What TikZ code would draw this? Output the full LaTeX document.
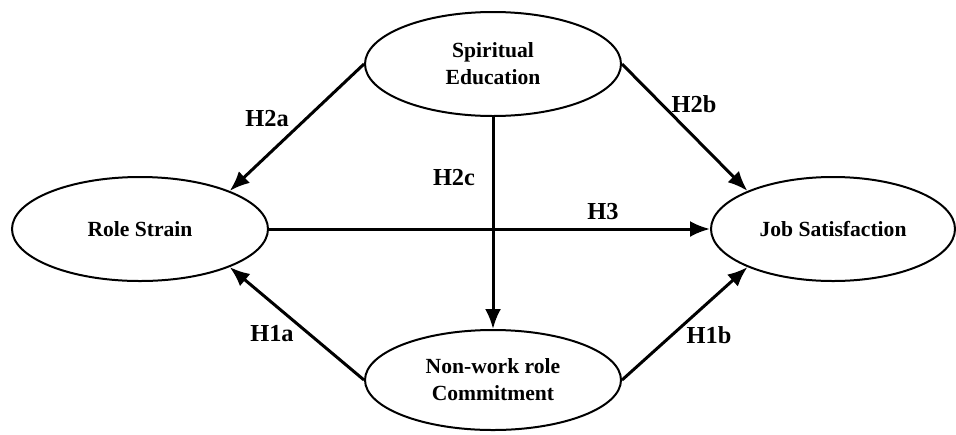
\documentclass[tikz,border=0pt]{standalone}
\usepackage{fontspec}
\setmainfont{Liberation Serif}
\usetikzlibrary{arrows.meta,shapes.geometric,positioning}

\begin{document}
\begin{tikzpicture} [x=0.5pt,y=-0.5pt,>={Latex[length=10pt,width=8pt]}]
    \tikzset {
      factor/.style={ellipse,draw,line width=1pt,inner sep=0pt,minimum width=128pt,minimum height=52pt,align=center,font=\fontsize{10.8}{13.5}\selectfont\bfseries},
      link/.style={->,line width=1.5pt},
      hyp/.style={font=\fontsize{12.2}{14}\selectfont\bfseries}
    }
    \useasboundingbox (0,0) rectangle (956,434);
    \node [factor] (se) at (493,64) {Spiritual\\Education};
    \node [factor] (rs) at (140,229) {Role Strain};
    \node [factor, minimum width=122pt] (js) at (833,229) {Job Satisfaction};
    \node [factor, minimum height=50pt] (nc) at (493,380) {Non-work role\\Commitment};

    \draw [link] (se.west) to (rs.23);
    \draw [link] (se.east) to (js.156);
    \draw [link] (se.south) to (nc.north);
    \draw [link] (rs.east) to (js.west);
    \draw [link] (nc.west) to (rs.337);
    \draw [link] (nc.east) to (js.204);

    \node [hyp] (h2a) at (267,119) {H2a};
    \node [hyp] (h2b) at (694,104) {H2b};
    \node [hyp] (h2c) at (454,178) {H2c};
    \node [hyp] (h3) at (603,212) {H3};
    \node [hyp] (h1a) at (272,334) {H1a};
    \node [hyp] (h1b) at (709,335) {H1b};
  \end{tikzpicture}
\end{document}
